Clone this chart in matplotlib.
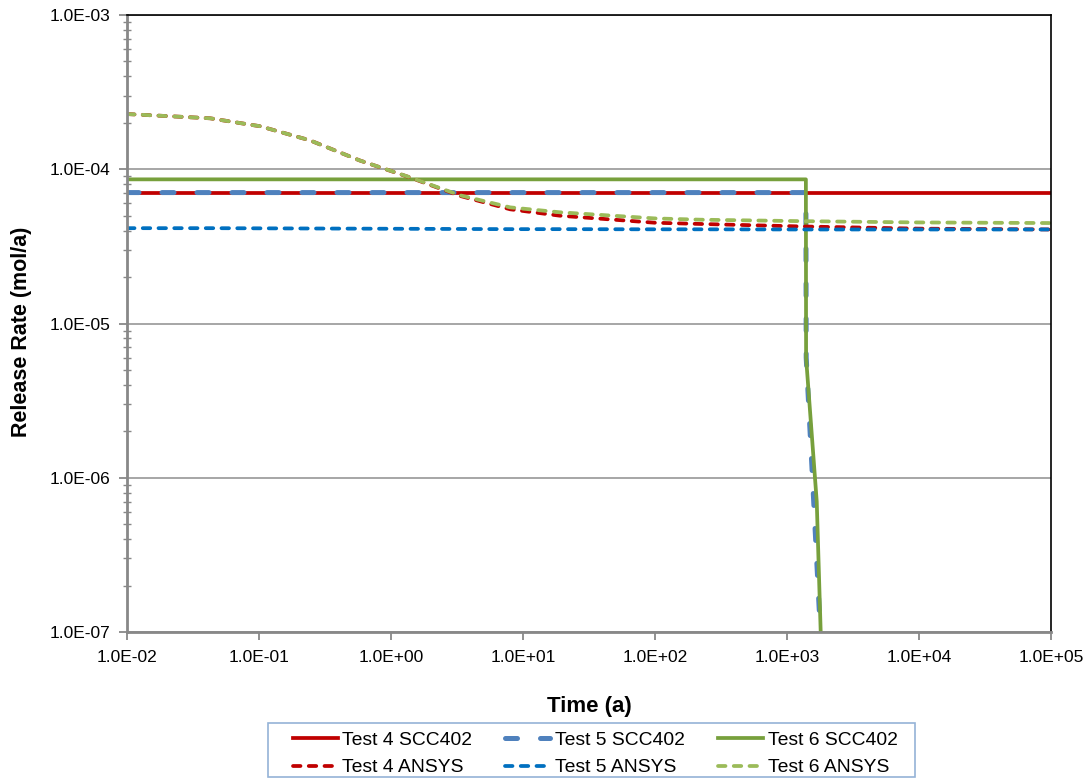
import numpy as np
import matplotlib
matplotlib.use("Agg")
import matplotlib.pyplot as plt
from matplotlib.patches import Rectangle
from matplotlib.ticker import FixedLocator, FuncFormatter, NullLocator

plt.rcParams['font.family'] = ['Liberation Sans', 'DejaVu Sans']

# SCC402 step-type series (drop near 1.4e3 a)
t4_scc_t = [1e-2, 1e5]
t4_scc_r = [7.06e-5, 7.06e-5]
t5_scc_t = [1e-2, 1390, 1398, 1560, 1790]
t5_scc_r = [7.06e-5, 7.06e-5, 6.0e-6, 1.0e-6, 1.0e-7]
t6_scc_t = [1e-2, 1390, 1395, 1680, 1800]
t6_scc_r = [8.6e-5, 8.6e-5, 6.0e-6, 7.0e-7, 1.0e-7]

# ANSYS series
ansys_t = [1e-2, 0.0426, 0.102, 0.243, 0.58, 1.39, 3.33, 8.0, 19.0, 100, 220, 1250, 1e4, 1e5]
t4_ansys_r = [2.28e-4, 2.14e-4, 1.90e-4, 1.54e-4, 1.14e-4, 8.85e-5, 6.72e-5,
              5.5e-5, 5.0e-5, 4.5e-5, 4.42e-5, 4.26e-5, 4.12e-5, 4.07e-5]
t5_ansys_r = [4.15e-5, 4.15e-5, 4.14e-5, 4.13e-5, 4.12e-5, 4.11e-5, 4.10e-5,
              4.09e-5, 4.09e-5, 4.08e-5, 4.08e-5, 4.07e-5, 4.07e-5, 4.07e-5]
t6_ansys_r = [2.28e-4, 2.14e-4, 1.90e-4, 1.54e-4, 1.14e-4, 8.87e-5, 6.78e-5,
              5.66e-5, 5.26e-5, 4.8e-5, 4.71e-5, 4.61e-5, 4.52e-5, 4.48e-5]

x_ticks = [1e-2, 1e-1, 1e0, 1e1, 1e2, 1e3, 1e4, 1e5]
y_ticks = [1e-7, 1e-6, 1e-5, 1e-4, 1e-3]

red = '#C00000'
blue_s = '#4F81BD'
green_s = '#77A03C'
blue_a = '#0070C0'
green_a = '#9BBB59'

W, H = 1089, 778
fig = plt.figure(figsize=(W / 100, H / 100), dpi=100)
ax = fig.add_axes([127 / W, 1 - 632 / H, (1051 - 127) / W, (632 - 15) / H])

ax.set_xscale('log')
ax.set_yscale('log')
ax.set_xlim(1e-2, 1e5)
ax.set_ylim(1e-7, 1e-3)

ansys_dash = (2.0, 2.2)
h1, = ax.plot(t4_scc_t, t4_scc_r, color=red, lw=2.7, label='Test 4 SCC402')
h2, = ax.plot(t5_scc_t, t5_scc_r, color=blue_s, lw=3.6, dashes=(2.4, 4.6),
              dash_capstyle='round', label='Test 5 SCC402')
h3, = ax.plot(t6_scc_t, t6_scc_r, color=green_s, lw=2.7, label='Test 6 SCC402')
h4, = ax.plot(ansys_t, t4_ansys_r, color=red, lw=2.7, dashes=ansys_dash,
              dash_capstyle='round', label='Test 4 ANSYS')
h5, = ax.plot(ansys_t, t5_ansys_r, color=blue_a, lw=2.7, dashes=ansys_dash,
              dash_capstyle='round', label='Test 5 ANSYS')
h6, = ax.plot(ansys_t, t6_ansys_r, color=green_a, lw=2.7, dashes=ansys_dash,
              dash_capstyle='round', label='Test 6 ANSYS')

def sci(v, pos):
    return '%.1fE%+03d' % (1.0, int(round(np.log10(v))))

ax.xaxis.set_major_locator(FixedLocator(x_ticks))
ax.xaxis.set_minor_locator(NullLocator())
ax.yaxis.set_major_locator(FixedLocator(y_ticks))
ax.yaxis.set_minor_locator(FixedLocator(
    [m * 10.0 ** e for e in range(-7, -3) for m in range(2, 10)]))
ax.xaxis.set_major_formatter(FuncFormatter(sci))
ax.yaxis.set_major_formatter(FuncFormatter(sci))
ax.yaxis.set_minor_formatter(FuncFormatter(lambda v, p: ''))

ax.tick_params(axis='both', which='major', direction='out', length=6, width=1.3,
               color='#888888', labelsize=12.5)
ax.tick_params(axis='y', which='major', pad=6)
ax.tick_params(axis='x', which='major', pad=7)
ax.tick_params(axis='y', which='minor', direction='inout', length=6, width=1.0,
               color='#888888')

ax.grid(True, axis='y', which='major', color='#A6A6A6', lw=1.4)
ax.set_axisbelow(True)

for s in ['left', 'bottom']:
    ax.spines[s].set_color('#888888')
    ax.spines[s].set_linewidth(2.0)
for s in ['top', 'right']:
    ax.spines[s].set_color('black')
    ax.spines[s].set_linewidth(1.2)

ax.set_xlabel('Time (a)', fontsize=16, fontweight='bold', labelpad=22)
ax.set_ylabel('Release Rate (mol/a)', fontsize=15.5, fontweight='bold')
ax.yaxis.set_label_coords(-0.103, (632 - 332) / 617)

leg = fig.legend(handles=[h1, h4, h2, h5, h3, h6], loc='center', ncol=3,
                 bbox_to_anchor=(595 / W, 1 - 754 / H), fontsize=13.9,
                 frameon=False, handlelength=2.33, handletextpad=0.25,
                 columnspacing=1.7, labelspacing=0.5, borderpad=0.0)
fig.patches.append(Rectangle((268 / W, 1 - 777 / H), (915 - 268) / W, (777 - 723) / H,
                             transform=fig.transFigure, fill=False,
                             edgecolor='#95B3D7', lw=1.2))

fig.savefig('out.png', dpi=100)
